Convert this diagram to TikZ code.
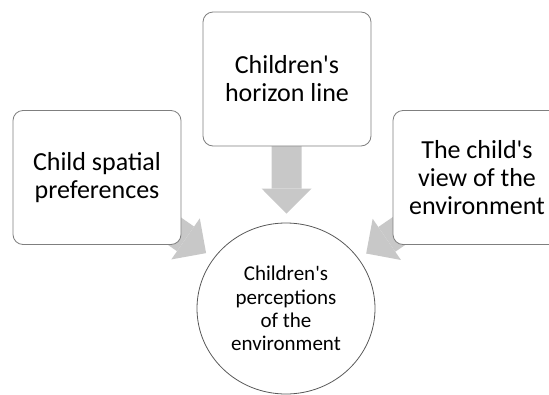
\documentclass[tikz,border=0pt]{standalone}
\usepackage{fontspec}
\setmainfont{Carlito}[Ligatures=TeXOff]
\usepackage{tikz}
\usetikzlibrary{arrows.meta,positioning,shapes.geometric,backgrounds}
\definecolor{boxgray}{HTML}{7F7F7F}
\definecolor{ringgray}{HTML}{595959}
\definecolor{arrowgray}{HTML}{C8C8C8}

\begin{document}
\begin{tikzpicture}[x=1pt,y=-1pt,
  factor/.style={draw=boxgray,line width=0.8pt,fill=white,rounded corners=10pt,minimum width=168pt,minimum height=134pt,align=center,font=\fontsize{26}{28}\selectfont},
  outcome/.style={ellipse,draw=ringgray,line width=0.8pt,fill=white,minimum width=178pt,minimum height=171pt,inner sep=0pt,align=center,font=\fontsize{21}{23.3}\selectfont},
  fatarrow/.style={arrowgray,line width=30pt,shorten >=9pt,-{Triangle[width=50pt,length=25pt,line width=0pt]}}]
  \useasboundingbox (0,0) rectangle (549,394);
  \clip (0,0) rectangle (549,394);
  \node[factor] (horizon) at (287,79) {Children's\\horizon line};
  \node[factor] (spatial) at (97,177.5) {Child spatial\\preferences};
  \node[factor] (view) at (477,177.5) {The child's\\view of the\\environment};
  \node[outcome] (perc) at (286,308.5) {Children's\\perceptions\\of the\\environment};
  \begin{scope}[on background layer]
    \draw[fatarrow] (horizon.center) -- (perc);
    \draw[fatarrow] (spatial.center) -- (perc);
    \draw[fatarrow] (view.center) -- (perc);
  \end{scope}
\end{tikzpicture}
\end{document}
